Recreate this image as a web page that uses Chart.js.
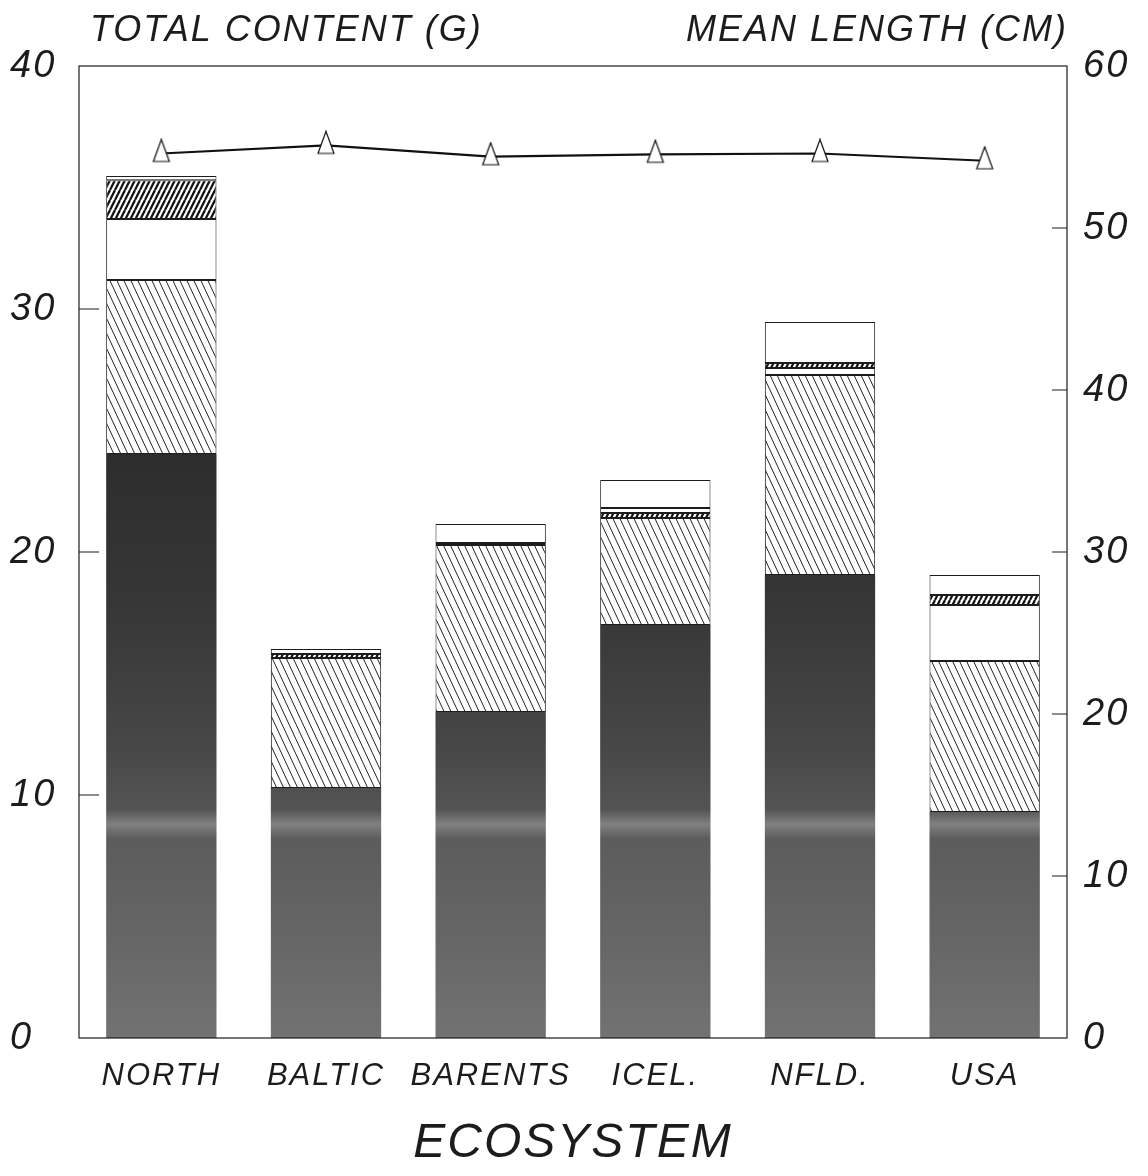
<!DOCTYPE html>
<html>
<head>
<meta charset="utf-8">
<script src="https://cdn.jsdelivr.net/npm/chart.js@4"></script>
<style>
  html, body { margin: 0; padding: 0; background: #fff; }
  #wrap { width: 1148px; height: 1176px; }
</style>
</head>
<body>
<div id="wrap"><canvas id="stomachChart"></canvas></div>
<script>
// values
const categories = ["NORTH", "BALTIC", "BARENTS", "ICEL.", "NFLD.", "USA"];
const darkPart   = [24.03, 10.29, 13.42, 17.0, 19.05, 9.30];
const hatchPart  = [7.16, 5.35, 6.87, 4.4, 8.23, 6.21];
const whiteLow   = [2.51, 0, 0, 0, 0.29, 2.31];
const densePart  = [1.6, 0.16, 0.08, 0.2, 0.21, 0.41];
const whiteThin  = [0.17, 0, 0, 0.21, 0, 0];
const whiteTop   = [0, 0.21, 0.78, 1.15, 1.69, 0.82];
const meanLength = [54.6, 55.1, 54.4, 54.55, 54.6, 54.15];

const leftMax = 40, leftStep = 10;
const rightMax = 60, rightStep = 10;

const FONT = "'Liberation Sans', Arial, sans-serif";
const INK = "#1c1c1c";

// fill patterns
function makePattern(w, h, bg, fg, lw, dir) {
  const c = document.createElement("canvas");
  c.width = w; c.height = h;
  const g = c.getContext("2d");
  g.fillStyle = bg;
  g.fillRect(0, 0, w, h);
  g.strokeStyle = fg;
  g.lineWidth = lw;
  for (let k = -1; k <= 1; k++) {
    g.beginPath();
    if (dir === "down") {
      g.moveTo(k * w, 0);
      g.lineTo(k * w + w, h);
    } else {
      g.moveTo(k * w, h);
      g.lineTo(k * w + w, 0);
    }
    g.stroke();
  }
  return g.createPattern(c, "repeat");
}

const hatchFill = makePattern(7, 15, "#ffffff", "#222", 1, "down");
const denseFill = makePattern(5, 10, "#ffffff", "#111", 2.2, "up");

function darkFill(context) {
  const chart = context.chart;
  const area = chart.chartArea;
  if (!area) return "#555";
  const g = chart.ctx.createLinearGradient(0, area.top, 0, area.bottom);
  g.addColorStop(0, "#2a2a2a");
  g.addColorStop(0.4, "#2d2d2d");
  g.addColorStop(0.55, "#363636");
  g.addColorStop(0.7, "#474747");
  g.addColorStop(0.765, "#545454");
  g.addColorStop(0.78, "#808080");
  g.addColorStop(0.795, "#5c5c5c");
  g.addColorStop(0.9, "#666666");
  g.addColorStop(1, "#727272");
  return g;
}

// triangle marker
const tri = document.createElement("canvas");
tri.width = 20; tri.height = 30;
(function () {
  const g = tri.getContext("2d");
  g.fillStyle = "#fff";
  g.strokeStyle = "#111";
  g.lineWidth = 1.2;
  g.beginPath();
  g.moveTo(10, 1);
  g.lineTo(2, 23);
  g.lineTo(18, 23);
  g.closePath();
  g.fill();
  g.stroke();
})();

function barSet(label, data, fill, border) {
  return {
    type: "bar",
    label: label,
    data: data,
    backgroundColor: fill,
    borderColor: INK,
    borderWidth: border,
    borderSkipped: false,
    yAxisID: "y",
    order: 2,
    barPercentage: 0.67,
    categoryPercentage: 1
  };
}

// frame, inward ticks, top titles, letter spacing
const decorations = {
  id: "decorations",
  beforeUpdate(chart) { chart.ctx.letterSpacing = "2px"; },
  beforeDraw(chart) { chart.ctx.letterSpacing = "2px"; },
  afterDraw(chart) {
    const { ctx, chartArea, scales } = chart;
    ctx.save();
    ctx.strokeStyle = INK;
    ctx.lineWidth = 1.2;
    ctx.strokeRect(chartArea.left, chartArea.top, chartArea.right - chartArea.left, chartArea.bottom - chartArea.top);
    ctx.beginPath();
    for (let v = leftStep; v < leftMax; v += leftStep) {
      const y = scales.y.getPixelForValue(v);
      ctx.moveTo(chartArea.left, y);
      ctx.lineTo(chartArea.left + 20, y);
    }
    for (let v = rightStep; v < rightMax; v += rightStep) {
      const y = scales.y2.getPixelForValue(v);
      ctx.moveTo(chartArea.right - 15, y);
      ctx.lineTo(chartArea.right, y);
    }
    ctx.stroke();

    ctx.fillStyle = INK;
    ctx.letterSpacing = "2px";
    ctx.font = "italic 36px " + FONT;
    ctx.textBaseline = "middle";
    ctx.textAlign = "left";
    ctx.fillText("TOTAL CONTENT (G)", 90, 31);
    ctx.textAlign = "right";
    ctx.fillText("MEAN LENGTH (CM)", 1068, 31);
    ctx.restore();
  }
};

new Chart(document.getElementById("stomachChart"), {
  data: {
    labels: categories,
    datasets: [
      barSet("dark", darkPart, darkFill, 0),
      barSet("hatch", hatchPart, hatchFill, 1),
      barSet("white", whiteLow, "#ffffff", 1),
      barSet("dense", densePart, denseFill, 1),
      barSet("thin", whiteThin, "#ffffff", 1),
      barSet("top", whiteTop, "#ffffff", 1),
      {
        type: "line",
        label: "Mean length",
        data: meanLength,
        yAxisID: "y2",
        order: 0,
        borderColor: "#111",
        borderWidth: 2.2,
        tension: 0,
        pointStyle: tri,
        pointRadius: 10,
        pointHoverRadius: 10
      }
    ]
  },
  options: {
    responsive: true,
    maintainAspectRatio: false,
    animation: false,
    events: [],
    layout: { padding: { top: 66, left: 10, right: 0, bottom: 0 } },
    plugins: {
      legend: { display: false },
      tooltip: { enabled: false }
    },
    scales: {
      x: {
        stacked: true,
        offset: true,
        grid: { display: false, drawTicks: false },
        border: { display: false },
        ticks: {
          color: INK,
          padding: 20,
          autoSkip: false,
          maxRotation: 0,
          minRotation: 0,
          font: { family: FONT, size: 31, style: "italic" }
        },
        title: {
          display: true,
          text: "ECOSYSTEM",
          color: INK,
          padding: { top: 0, bottom: 4 },
          font: { family: FONT, size: 48, style: "italic" }
        },
        afterFit(scale) { scale.height = 138; }
      },
      y: {
        stacked: true,
        position: "left",
        min: 0,
        max: leftMax,
        grid: { display: false, drawTicks: false },
        border: { display: false },
        ticks: {
          stepSize: leftStep,
          crossAlign: "far",
          color: INK,
          font: { family: FONT, size: 38, style: "italic" }
        },
        afterFit(scale) { scale.width = 69; }
      },
      y2: {
        position: "right",
        min: 0,
        max: rightMax,
        grid: { display: false, drawTicks: false },
        border: { display: false },
        ticks: {
          stepSize: rightStep,
          padding: 16,
          color: INK,
          font: { family: FONT, size: 38, style: "italic" }
        },
        afterFit(scale) { scale.width = 81; }
      }
    }
  },
  plugins: [decorations]
});
</script>
</body>
</html>
